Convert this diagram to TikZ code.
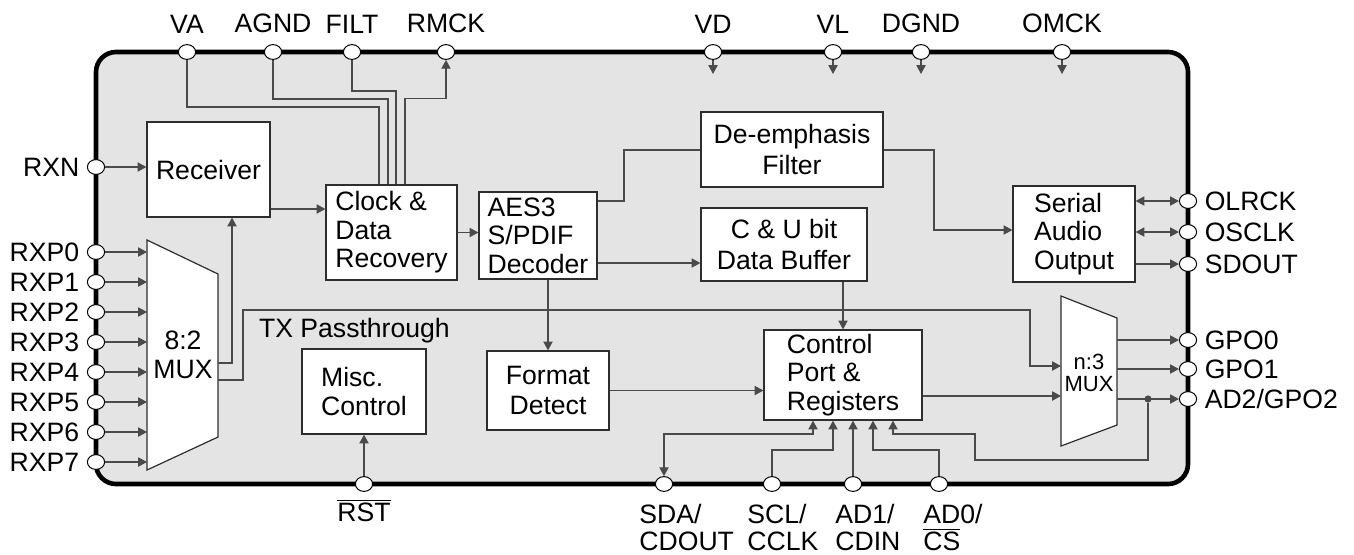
\documentclass[tikz,border=0pt]{standalone}
\usepackage{fontspec}
\setmainfont{Liberation Sans}
\usetikzlibrary{positioning, arrows.meta, shapes.geometric}
\definecolor{chipfill}{HTML}{E4E4E4}
\definecolor{wirecol}{HTML}{4A4A4A}
\definecolor{boxcol}{HTML}{2E2E2E}

\begin{document}
\begin{tikzpicture}[x=0.5pt, y=-0.5pt, >={Triangle[length=4.4pt,width=4.6pt]},
    every node/.style={font=\fontsize{13.3}{14.2}\selectfont},
    blk/.style={draw=boxcol, fill=white, line width=0.6pt, align=left, inner sep=0pt},
    cblk/.style={blk, align=center, font=\fontsize{13.3}{15.2}\selectfont},
    muxshape/.style={draw=boxcol, fill=white, line width=0.6pt},
    wire/.style={draw=wirecol, line width=0.6pt},
    pad/.style={draw, fill=white, ellipse, line width=0.5pt, minimum width=8.6pt, minimum height=7.4pt, inner sep=0pt},
    dot/.style={circle, fill=wirecol, inner sep=0pt, minimum size=3.6pt},
    botlbl/.style={anchor=north west, align=left, inner sep=0pt, font=\fontsize{13.3}{13.6}\selectfont}]
    \useasboundingbox (0,0) rectangle (1354,554);

    \draw [line width=2.3pt, fill=chipfill, rounded corners=10pt] (96,52) rectangle (1188,484);

    % pins
    \foreach \nm/\x/\txt in {va/187/VA, agnd/273/AGND, filt/352/FILT, rmck/446/RMCK,
                             vd/713/VD, vl/833/VL, dgnd/921/DGND, omck/1062/OMCK} {
      \node [pad] (\nm) at (\x,52) {};
      \node [above=2pt of \nm] (\nm lbl) {\txt};
    }
    \node [pad] (rxn) at (96,167) {};
    \node [left=0.3pt of rxn] (rxn lbl) {RXN};
    \foreach \i in {0,...,7} {
      \node [pad] (rxp\i) at (96,{252+30*\i}) {};
      \node [left=0.3pt of rxp\i] (rxp\i lbl) {RXP\i};
    }
    \foreach \nm/\y/\txt in {olrck/201/OLRCK, osclk/232/OSCLK, sdout/264/SDOUT,
                             gpo0/340/GPO0, gpo1/369/GPO1, gpo2/399/{AD2/GPO2}} {
      \node [pad] (\nm) at (1188,\y) {};
      \node [right=0.3pt of \nm] (\nm lbl) {\txt};
    }
    \foreach \nm/\x in {rst/364, sda/664, scl/772, ad1/853, ad0/939}
      \node [pad] (\nm) at (\x,484) {};
    \node [below=0pt of rst] (rst lbl) {$\overline{\mbox{RST}}$};
    \node [botlbl] (sda lbl) at (639,504) {SDA/\\CDOUT};
    \node [botlbl] (scl lbl) at (747,504) {SCL/\\CCLK};
    \node [botlbl] (ad1 lbl) at (835,504) {AD1/\\CDIN};
    \node [botlbl] (ad0 lbl) at (923,504) {AD0/\\$\overline{\mbox{CS}}$};

    % blocks
    \node [blk, minimum width=61.5pt, minimum height=47.5pt] (receiver) at (208.5,169.5) {Receiver};
    \node [blk, minimum width=65.5pt, minimum height=47.5pt] (cdr) at (391.5,232.5) {Clock \&\\Data\\Recovery};
    \node [blk, minimum width=59pt, minimum height=43.5pt] (decoder) at (538,235.5) {AES3\\S/PDIF\\Decoder};
    \node [cblk, minimum width=91pt, minimum height=37.5pt] (deemph) at (792,149.5) {De-emphasis\\Filter};
    \node [cblk, minimum width=83pt, minimum height=36.5pt] (cubuf) at (784,244.5) {C \& U bit\\Data Buffer};
    \node [blk, minimum width=61pt, minimum height=48pt] (serial) at (1074,234) {Serial\\Audio\\Output};
    \node [cblk, minimum width=61pt, minimum height=39.5pt] (fmt) at (548,390.5) {Format\\Detect};
    \node [blk, minimum width=79pt, minimum height=45pt] (ctrl) at (843,375) {Control\\Port \&\\Registers};
    \node [blk, minimum width=62pt, minimum height=42.5pt] (misc) at (364,391.5) {Misc.\\Control};

    % multiplexers
    \draw [muxshape] (147,240) -- (218,274) -- (218,437) -- (147,470) -- cycle;
    \node [align=center] (rxmux) at (183,355) {8:2\\MUX};
    \coordinate (rxmuxw) at (147,0);
    \coordinate (rxmuxo1) at (218,363);
    \coordinate (rxmuxo2) at (218,380);
    \draw [muxshape] (1061,296) -- (1117,318) -- (1117,425) -- (1061,446) -- cycle;
    \node [align=center, font=\fontsize{11}{11.2}\selectfont] (gpomux) at (1089,373) {n:3\\MUX};
    \coordinate (gpomuxin1) at (1061,366);
    \coordinate (gpomuxin2) at (1061,396);
    \coordinate (gpomuxe) at (1117,0);
    \node [dot] (jct) at (1148,399) {};
    \node [anchor=base west] (txlbl) at (252,337) {TX Passthrough};

    % connections
    \draw [wire] (va) -- ++(0,55) -| (cdr.north -| 379,0);
    \draw [wire] (agnd) -- ++(0,47) -| (cdr.north -| 388,0);
    \draw [wire] (filt) -- ++(0,39) -| (cdr.north -| 396,0);
    \draw [wire,->] (cdr.north -| 405,0) -- ++(0,-86) -| (rmck);
    \foreach \nm in {vd, vl, dgnd, omck}
      \draw [wire,->] (\nm) -- ++(0,22);

    \draw [wire,->] (rxn) -- (rxn -| receiver.west);
    \foreach \i in {0,...,7}
      \draw [wire,->] (rxp\i) -- (rxp\i -| rxmuxw);
    \draw [wire,->] (rxmuxo1) -| (receiver.south -| 232,0);
    \draw [wire,->] (rxmuxo2) -| (243,310) -| (1030,366) -- (gpomuxin1);
    \draw [wire,->] (receiver.east |- 0,209) -- (cdr.west |- 0,209);
    \draw [wire,->] (cdr) -- (cdr -| decoder.west);
    \draw [wire] (decoder.east |- 0,201) -| (624,150) -- (deemph.west |- 0,150);
    \draw [wire,->] (deemph.east |- 0,150) -| (934,230) -- (serial.west |- 0,230);
    \draw [wire,->] (decoder.east |- 0,263) -- (cubuf.west |- 0,263);
    \draw [wire,->] (decoder.south -| fmt) -- (fmt);
    \draw [wire,->] (cubuf.south -| ctrl) -- (ctrl);
    \draw [wire,->] (fmt) -- (fmt -| ctrl.west);
    \draw [wire,->] (ctrl.east |- gpomuxin2) -- (gpomuxin2);

    \draw [wire,<->] (serial.east |- olrck) -- (olrck);
    \draw [wire,<->] (serial.east |- osclk) -- (osclk);
    \draw [wire,->] (serial.east |- sdout) -- (sdout);
    \foreach \nm in {gpo0, gpo1, gpo2}
      \draw [wire,->] (gpomuxe |- \nm) -- (\nm);

    \draw [wire,->] (rst) -- (misc);
    \draw [wire,<->] (ctrl.south -| 813,0) |- (664,434) -- (sda);
    \draw [wire,->] (scl) |- (833,450) -- (ctrl.south -| 833,0);
    \draw [wire,->] (ad1) -- (ctrl.south -| ad1);
    \draw [wire,->] (ad0) |- (873,450) -- (ctrl.south -| 873,0);
    \draw [wire,->] (jct) -- (1148,460) -| (975,434) -| (ctrl.south -| 893,0);
  \end{tikzpicture}
\end{document}
